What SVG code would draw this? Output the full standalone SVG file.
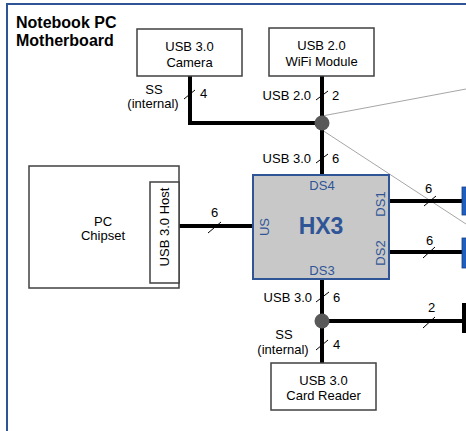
<svg xmlns="http://www.w3.org/2000/svg" width="466" height="431" viewBox="0 0 466 431">
<style>
text{font-family:"Liberation Sans",Arial,sans-serif;font-size:13px;fill:#000}
.box{fill:#fff;stroke:#404040;stroke-width:1.5}
.bus{stroke:#000;stroke-width:4;fill:none}
.sl{stroke:#000;stroke-width:1;fill:none}
.thin{stroke:#a6a6a6;stroke-width:1;fill:none}
.blue{fill:#2f5597}
.mid{text-anchor:middle}
.end{text-anchor:end}
.dot{fill:#595959}
</style>
<rect x="7" y="4" width="480" height="440" fill="#fff" stroke="#2e5496" stroke-width="2"/>
<text x="16" y="28" style="font-weight:bold;font-size:16px">Notebook PC</text>
<text x="16" y="46" style="font-weight:bold;font-size:16px">Motherboard</text>

<g id="connectors">
  <line class="thin" x1="322" y1="116" x2="466" y2="89"/>
  <line class="thin" x1="322" y1="130" x2="466" y2="224"/>
  <polyline class="bus" points="190,76 190,123 322,123"/>
  <line class="bus" x1="322" y1="76" x2="322" y2="175"/>
  <line class="bus" x1="179" y1="226" x2="253" y2="226"/>
  <line class="bus" x1="389" y1="201" x2="463" y2="201"/>
  <line class="bus" x1="389" y1="252" x2="463" y2="252"/>
  <line class="bus" x1="322" y1="279" x2="322" y2="363"/>
  <line class="bus" x1="322" y1="321" x2="463" y2="321"/>
  <circle class="dot" cx="322" cy="123" r="7.5"/>
  <circle class="dot" cx="322" cy="321" r="7.5"/>
  <rect x="462" y="187" width="5" height="28" fill="#1f5fc0" stroke="#1a3f80" stroke-width="0.8"/>
  <rect x="462" y="238" width="5" height="30" fill="#1f5fc0" stroke="#1a3f80" stroke-width="0.8"/>
  <rect x="462" y="303" width="5" height="30" fill="#000"/>
  <line class="sl" x1="184" y1="99" x2="195" y2="90"/>
  <line class="sl" x1="316" y1="100" x2="328" y2="91"/>
  <line class="sl" x1="316" y1="163" x2="328" y2="154"/>
  <line class="sl" x1="208" y1="233" x2="221" y2="222"/>
  <line class="sl" x1="424" y1="206" x2="436" y2="196"/>
  <line class="sl" x1="423" y1="258" x2="435" y2="247"/>
  <line class="sl" x1="316" y1="302" x2="329" y2="292"/>
  <line class="sl" x1="423" y1="328" x2="435" y2="317"/>
  <line class="sl" x1="316" y1="350" x2="328" y2="340"/>
  <text class="mid" x="154" y="94">SS</text>
  <text class="mid" x="153" y="108">(internal)</text>
  <text x="200" y="98">4</text>
  <text class="end" x="311" y="100">USB 2.0</text>
  <text x="332" y="100">2</text>
  <text class="end" x="311" y="163">USB 3.0</text>
  <text x="332" y="163">6</text>
  <text x="211" y="217">6</text>
  <text x="425" y="193">6</text>
  <text x="426" y="245">6</text>
  <text x="428" y="312">2</text>
  <text class="end" x="312" y="302">USB 3.0</text>
  <text x="333" y="302">6</text>
  <text class="mid" x="284" y="339">SS</text>
  <text class="mid" x="283" y="354">(internal)</text>
  <text x="333" y="349">4</text>
</g>

<g id="camera">
  <rect class="box" x="137" y="29" width="105" height="47"/>
  <text class="mid" x="189.5" y="51">USB 3.0</text>
  <text class="mid" x="189.5" y="67">Camera</text>
</g>
<g id="wifi">
  <rect class="box" x="269" y="28" width="105" height="48"/>
  <text class="mid" x="321.5" y="50">USB 2.0</text>
  <text class="mid" x="321.5" y="66">WiFi Module</text>
</g>
<g id="chipset">
  <rect class="box" x="29" y="166" width="150" height="122"/>
  <text class="mid" x="103" y="226">PC</text>
  <text class="mid" x="103" y="240">Chipset</text>
</g>
<g id="host">
  <rect class="box" x="150" y="182" width="29" height="101"/>
  <text class="mid" transform="translate(169,227) rotate(-90)">USB 3.0 Host</text>
</g>
<g id="hx3">
  <rect x="253" y="175" width="136" height="104" fill="#c8c8c8" stroke="#2f5597" stroke-width="2"/>
  <text class="mid blue" x="321" y="234" style="font-weight:bold;font-size:23px">HX3</text>
  <text class="mid blue" x="322" y="190">DS4</text>
  <text class="mid blue" x="322" y="275">DS3</text>
  <text class="mid blue" transform="translate(269,227) rotate(-90)">US</text>
  <text class="mid blue" transform="translate(385,204) rotate(-90)">DS1</text>
  <text class="mid blue" transform="translate(385,253) rotate(-90)">DS2</text>
</g>
<g id="cardreader">
  <rect class="box" x="271" y="363" width="105" height="47"/>
  <text class="mid" x="323.5" y="385">USB 3.0</text>
  <text class="mid" x="323.5" y="400">Card Reader</text>
</g>
</svg>
